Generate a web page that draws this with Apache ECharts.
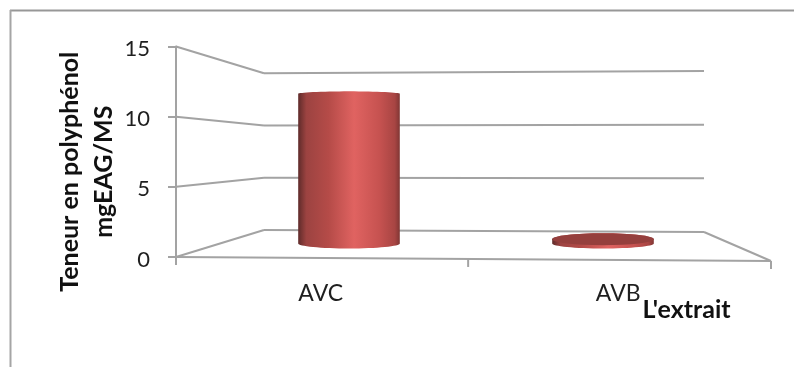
<!DOCTYPE html>
<html>
<head>
<meta charset="utf-8">
<style>html,body{margin:0;padding:0;background:#fff}#chart{width:794px;height:367px}</style>
<script src="https://cdn.jsdelivr.net/npm/echarts@6/dist/echarts.min.js"></script>
</head>
<body>
<div id="chart"></div>
<script>
// Polyphenol content per extract
const categories = ['AVC', 'AVB'];
const polyphenols = [12.2, 0.35];
const yTicks = [0, 5, 10, 15];
const yTitle = 'Teneur en polyphénol\nmgEAG/MS';
const xTitle = "L'extrait";

// Planes of the pseudo-3D box, each one a y scale of its own
const planes = {
  front:     { left: 176, width: 595, top: 46.5, height: 210.5 },
  middle:    { left: 222, width: 508, top: 59.5, height: 184 },
  backLeft:  { left: 264, width: 440, top: 73.3, height: 156.7 },
  backRight: { left: 264, width: 440, top: 71, height: 161 },
  floorEnd:  { left: 176, width: 595, top: 46.5, height: 214.5 }
};
const planeOrder = ['front', 'middle', 'backLeft', 'backRight', 'floorEnd'];
const tickFractions = [0, 0.491, 1];
const lineColor = '#a3a3a3';
const font = 'Lato';

const chart = echarts.init(document.getElementById('chart'), null, { renderer: 'canvas' });
const yOf = (plane, v) => chart.convertToPixel({ yAxisIndex: planeOrder.indexOf(plane) }, v);
const seg = (x1, y1, x2, y2, w) => ({
  type: 'line', shape: { x1, y1, x2, y2 }, style: { stroke: lineColor, lineWidth: w || 2 }
});

// Wall and floor lines: front axis to back wall, then across the back wall
function renderBox(params) {
  if (params.dataIndex !== 0) return null;
  const f = planes.front, b = planes.backLeft;
  const backRightX = b.left + b.width;
  const children = [];
  yTicks.forEach(v => {
    children.push(seg(f.left, yOf('front', v), b.left, yOf('backLeft', v)));
    children.push(seg(b.left, yOf('backLeft', v), backRightX, yOf('backRight', v)));
  });
  const y0 = yOf('front', 0), yEnd = yOf('floorEnd', 0), xEnd = f.left + f.width;
  children.push(seg(f.left, y0, xEnd, yEnd));
  children.push(seg(backRightX, yOf('backRight', 0), xEnd, yEnd));
  tickFractions.forEach(t => {
    const x = f.left + t * f.width, y = y0 + (yEnd - y0) * t;
    children.push(seg(x, y, x, y + 8));
  });
  return { type: 'group', children };
}

function arc(cx, cy, rx, ry, from, to) {
  const pts = [];
  for (let i = 0; i <= 32; i++) {
    const a = from + (to - from) * i / 32;
    pts.push([cx + rx * Math.cos(a), cy + ry * Math.sin(a)]);
  }
  return pts;
}

// One cylinder standing on the middle plane of the box
function renderCylinder(params, api) {
  const value = api.value(1);
  const top = api.coord([api.value(0), value]);
  const base = api.coord([api.value(0), 0]);
  const rx = api.size([1, 0])[0] * 0.2;
  const height = base[1] - top[1];
  const baseRy = 5;
  const lidRy = height > 20 ? 2.5 : 6;
  const body = new echarts.graphic.LinearGradient(0, 0, 1, 0, [
    { offset: 0, color: '#5f2b2a' },
    { offset: 0.08, color: '#9c4341' },
    { offset: 0.3, color: '#b54b48' },
    { offset: 0.55, color: '#e06361' },
    { offset: 0.8, color: '#c65250' },
    { offset: 0.95, color: '#a84543' },
    { offset: 1, color: '#803634' }
  ]);
  const outline = arc(top[0], top[1], rx, lidRy, Math.PI, 2 * Math.PI)
    .concat(arc(base[0], base[1], rx, baseRy, 0, Math.PI));
  const children = [{ type: 'polygon', shape: { points: outline }, style: { fill: body } }];
  // Short cylinders are seen from above, so their lid shows as a flat ellipse
  if (height <= 20) {
    children.push({
      type: 'polygon',
      shape: { points: arc(top[0], top[1], rx, lidRy, 0, 2 * Math.PI) },
      style: { fill: '#953f3d' }
    });
  }
  return { type: 'group', children };
}

const helperAxis = (gridIndex) => ({
  type: 'value', gridIndex, min: 0, max: 15, interval: 5, show: false
});

chart.setOption({
  animation: false,
  backgroundColor: '#ffffff',
  grid: planeOrder.map(name => {
    const p = planes[name];
    return { left: p.left, width: p.width, top: p.top, height: p.height, containLabel: false };
  }),
  xAxis: [
    {
      type: 'category', gridIndex: 0, data: categories,
      axisLine: { show: false }, axisTick: { show: false }, splitLine: { show: false },
      axisLabel: {
        margin: 25, fontFamily: font, fontSize: 23, color: '#1f1f1f', padding: [0, 8, 0, 0]
      },
      name: xTitle, nameLocation: 'end', nameGap: -84.5, nameMoveOverlap: false,
      nameTextStyle: {
        fontFamily: font, fontSize: 25, fontWeight: 'bold', color: '#111',
        align: 'center', verticalAlign: 'top', padding: [40, 0, 0, 0]
      }
    },
    { type: 'category', gridIndex: 1, data: categories, show: false },
    { type: 'category', gridIndex: 2, data: categories, show: false },
    { type: 'category', gridIndex: 3, data: categories, show: false },
    { type: 'category', gridIndex: 4, data: categories, show: false }
  ],
  yAxis: [
    {
      type: 'value', gridIndex: 0, min: 0, max: 15, interval: 5,
      splitLine: { show: false },
      axisLine: { show: true, lineStyle: { color: lineColor, width: 2 } },
      axisTick: { show: true, length: 8, lineStyle: { color: lineColor, width: 2 } },
      axisLabel: {
        margin: 26, formatter: '{tick|{value}}',
        rich: {
          tick: { fontFamily: font, fontSize: 22, color: '#1f1f1f', padding: [5, 0, 0, 0] }
        }
      },
      name: yTitle, nameLocation: 'middle', nameGap: 55, nameRotate: 90, nameMoveOverlap: false,
      nameTextStyle: {
        fontFamily: font, fontSize: 25, fontWeight: 'bold', color: '#111', lineHeight: 34,
        padding: [0, 40, 0, 0]
      }
    },
    helperAxis(1), helperAxis(2), helperAxis(3), helperAxis(4)
  ],
  series: [
    {
      type: 'custom', name: 'box', coordinateSystem: 'none', renderItem: renderBox,
      data: [0], silent: true, z: 1
    },
    {
      type: 'custom', name: 'Teneur en polyphénol', xAxisIndex: 1, yAxisIndex: 1,
      renderItem: renderCylinder,
      data: categories.map((c, i) => [i, polyphenols[i]]),
      encode: { x: 0, y: 1 }, z: 2
    }
  ],
  graphic: [
    { type: 'line', shape: { x1: 10, y1: 10.5, x2: 794, y2: 10.5 }, style: { stroke: '#979797', lineWidth: 2 } },
    { type: 'line', shape: { x1: 10.5, y1: 10, x2: 10.5, y2: 367 }, style: { stroke: '#a5a5a5', lineWidth: 2 } }
  ]
});
</script>
</body>
</html>
